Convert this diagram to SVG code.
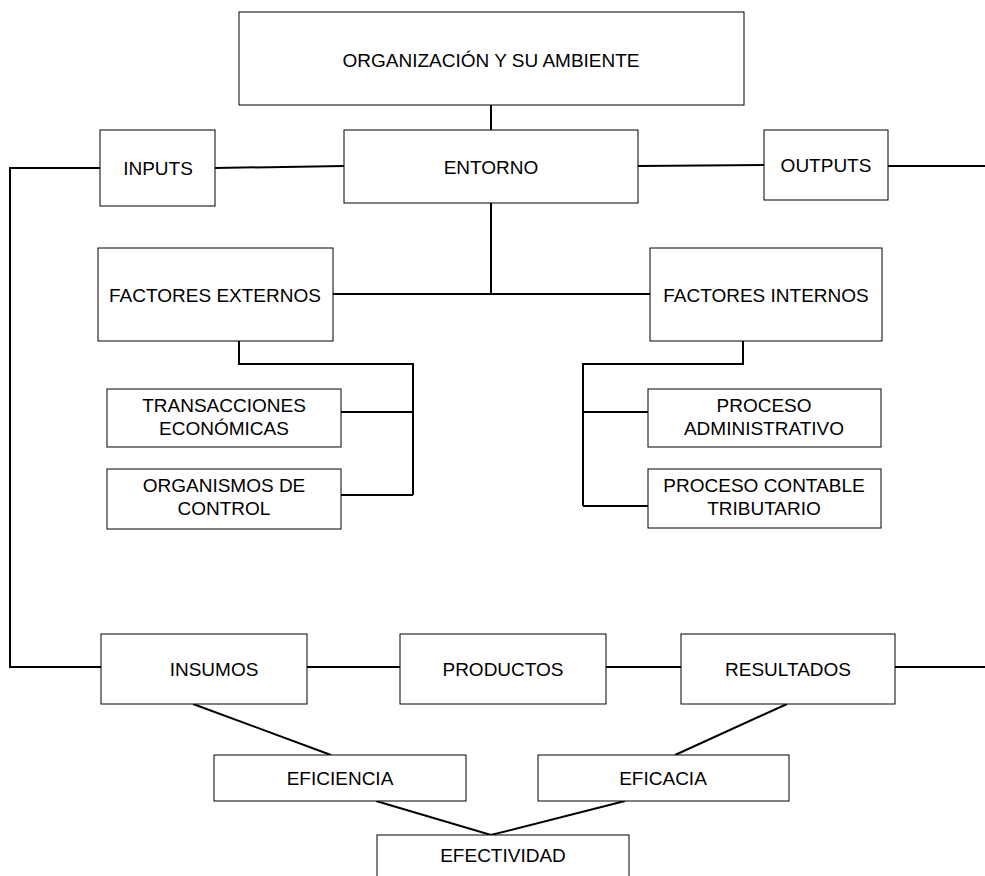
<svg xmlns="http://www.w3.org/2000/svg" width="985" height="876" viewBox="0 0 985 876">
<style>
rect{fill:#fff;stroke:#000;stroke-width:1}
.c{fill:none;stroke:#000;stroke-width:2}
text{font-family:"Liberation Sans",Arial,sans-serif;font-size:19px;fill:#000;text-anchor:middle}
</style>
<rect x="0" y="0" width="985" height="876" style="stroke:none"/>
<g id="connectors">
<path class="c" d="M491,105V130"/>
<path class="c" d="M215,168L344,166"/>
<path class="c" d="M638,166L764,165"/>
<path class="c" d="M888,166H985"/>
<path class="c" d="M100,168H10V667H101"/>
<path class="c" d="M491,203V294"/>
<path class="c" d="M333,294H650"/>
<path class="c" d="M239,341V364H413V495"/>
<path class="c" d="M341,412H413"/>
<path class="c" d="M341,495H413"/>
<path class="c" d="M743,341V364H583V506"/>
<path class="c" d="M583,412H648"/>
<path class="c" d="M583,506H648"/>
<path class="c" d="M307,667H400"/>
<path class="c" d="M606,667H681"/>
<path class="c" d="M895,667H985"/>
<path class="c" d="M193,704L331,755"/>
<path class="c" d="M787,704L675,755"/>
<path class="c" d="M376,801L491,835L625,801"/>
</g>
<g id="organizacion"><rect x="239" y="12" width="505" height="93"/><text x="491" y="67">ORGANIZACIÓN Y SU AMBIENTE</text></g>
<g id="inputs"><rect x="100" y="130" width="115" height="76"/><text x="158" y="175">INPUTS</text></g>
<g id="entorno"><rect x="344" y="130" width="294" height="73"/><text x="491" y="174">ENTORNO</text></g>
<g id="outputs"><rect x="764" y="130" width="124" height="70"/><text x="826" y="172">OUTPUTS</text></g>
<g id="factores-externos"><rect x="98" y="248" width="235" height="93"/><text x="215" y="302">FACTORES EXTERNOS</text></g>
<g id="factores-internos"><rect x="650" y="248" width="232" height="93"/><text x="766" y="302">FACTORES INTERNOS</text></g>
<g id="transacciones"><rect x="107" y="389" width="234" height="58"/><text x="224" y="412">TRANSACCIONES</text><text x="224" y="435">ECONÓMICAS</text></g>
<g id="organismos"><rect x="107" y="469" width="234" height="60"/><text x="224" y="492">ORGANISMOS DE</text><text x="224" y="515">CONTROL</text></g>
<g id="proceso-administrativo"><rect x="648" y="389" width="233" height="58"/><text x="764" y="412">PROCESO</text><text x="764" y="435">ADMINISTRATIVO</text></g>
<g id="proceso-contable"><rect x="648" y="469" width="233" height="59"/><text x="764" y="492">PROCESO CONTABLE</text><text x="764" y="515">TRIBUTARIO</text></g>
<g id="insumos"><rect x="101" y="634" width="206" height="70"/><text x="214" y="676">INSUMOS</text></g>
<g id="productos"><rect x="400" y="634" width="206" height="70"/><text x="503" y="676">PRODUCTOS</text></g>
<g id="resultados"><rect x="681" y="634" width="214" height="70"/><text x="788" y="676">RESULTADOS</text></g>
<g id="eficiencia"><rect x="214" y="755" width="252" height="46"/><text x="340" y="785">EFICIENCIA</text></g>
<g id="eficacia"><rect x="538" y="755" width="251" height="46"/><text x="663" y="785">EFICACIA</text></g>
<g id="efectividad"><rect x="377" y="835" width="252" height="50"/><text x="503" y="862">EFECTIVIDAD</text></g>
</svg>
